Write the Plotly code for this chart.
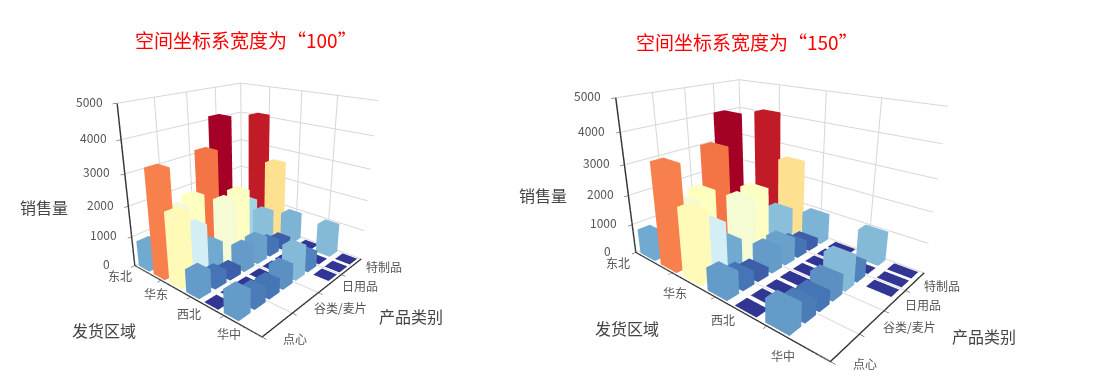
import plotly.graph_objects as go

region_ticks = ["东北", "华东", "西北", "华中"]
product_ticks = ["点心", "谷类/麦片", "日用品", "特制品"]
value_ticks = [0, 1000, 2000, 3000, 4000, 5000]
# sales[region row][product column]; None = no bar. 7 regions x 8 products, only every other tick is labelled
sales_r0 = [850, None, None, None, None, None, None, None]
sales_r1 = [3350, 2000, 2180, 3430, 4350, None, 1250, 4100]
sales_r2 = [2250, 1650, 850, 2040, 2150, None, 1050, 2600]
sales_r3 = [740, 450, 290, 740, 780, 450, 290, 950]
sales_r4 = [5, 5, 5, 5, 5, 5, 5, 5]
sales_r5 = [740, 500, 450, 650, 1000, 550, 5, 1000]
sales_r6 = [None, None, None, None, None, 5, 5, 5]
sales = [sales_r0, sales_r1, sales_r2, sales_r3, sales_r4, sales_r5, sales_r6]

scale = [[0.0, "#313695"], [0.1, "#4575b4"], [0.2, "#74add1"], [0.3, "#abd9e9"], [0.4, "#e0f3f8"],
         [0.5, "#ffffbf"], [0.6, "#fee090"], [0.7, "#fdae61"], [0.8, "#f46d43"], [0.9, "#d73027"], [1.0, "#a50026"]]
FW, FH = 1105, 377
XTICKS = [0, 1.75, 3.5, 5.25]
YTICKS = [0, 2, 4, 6]


def bars(wx, wy):
    X, Y, Z, I, J, K, C = [], [], [], [], [], [], []
    faces = [(0,1,2),(0,2,3),(4,5,6),(4,6,7),(0,1,5),(0,5,4),(1,2,6),(1,6,5),(2,3,7),(2,7,6),(3,0,4),(3,4,7)]
    for a, row in enumerate(sales):
        for b, v in enumerate(row):
            if v is None:
                continue
            n = len(X)
            for zz in (0, v):
                for dx, dy in ((-wx,-wy),(wx,-wy),(wx,wy),(-wx,wy)):
                    X.append(a + 0.5 + dx); Y.append(b + 0.5 + dy); Z.append(zz); C.append(v)
            for f in faces:
                I.append(n + f[0]); J.append(n + f[1]); K.append(n + f[2])
    return go.Mesh3d(x=X, y=Y, z=Z, i=I, j=J, k=K, intensity=C, colorscale=scale, cmin=0, cmax=4350,
                     showscale=False, flatshading=True, hoverinfo="skip",
                     lighting=dict(ambient=1, diffuse=0.04, specular=0, roughness=1, fresnel=0))


def note(text, x, y, z, dx, dy):
    return dict(text=text, x=x, y=y, z=z, showarrow=False, xshift=dx, yshift=dy, xanchor="center", yanchor="middle",
                font=dict(family="Noto Sans CJK SC", size=12, color="#555555"))


def scene(domain, ax, ay, az, eye, center, rshift, pshift, zshift):
    grid = "#d6d6d6"
    common = dict(gridcolor=grid, showline=True, linecolor="#333333", linewidth=3, ticks="outside",
                  tickcolor="#333333", ticklen=4, showbackground=False, zeroline=False, title_text="",
                  showticklabels=False, showspikes=False)
    anns = []
    for t, p, s in zip(region_ticks, XTICKS, rshift):
        anns.append(note(t, p, 0, 0, s[0], s[1]))
    for t, p, s in zip(product_ticks, YTICKS, pshift):
        anns.append(note(t, 7, p, 0, s[0], s[1]))
    for v in value_ticks:
        anns.append(note(str(v), 0, 0, v, zshift[0], zshift[1]))
    return dict(domain=dict(x=domain, y=[0, 1]),
                xaxis=dict(common, range=[0, 7], tickvals=XTICKS),
                yaxis=dict(common, range=[0, 8], tickvals=YTICKS),
                zaxis=dict(common, range=[0, 5000], tickvals=value_ticks),
                aspectmode="manual", aspectratio=dict(x=ax, y=ay, z=az), annotations=anns,
                camera=dict(eye=eye, center=center, up=dict(x=0, y=0, z=1)))


fig = go.Figure()
t1 = bars(0.36, 0.375); t1.scene = "scene"
t2 = bars(0.36, 0.375); t2.scene = "scene2"
fig.add_traces([t1, t2])
eye = dict(x=1.76, y=-2.03, z=1.03)
ctr = dict(x=0, y=0, z=-0.06)
fig.update_layout(
    width=FW, height=FH, margin=dict(l=0, r=0, t=0, b=0), paper_bgcolor="white", showlegend=False,
    scene=scene([0, 0.4372], 1.10, 1.07, 1.08, eye, ctr,
                [(-15, -10), (-5, -13), (-2, -17), (5, -18)], [(33, -1), (48, 6), (42, 7), (43, 8)], (-28, 2)),
    scene2=scene([0.473, 0.913], 1.65, 1.07, 1.08, eye, ctr,
                 [(-17, -10), (3, -20), (8, -23), (16, -30)], [(35, -2), (50, 8), (39, 6), (37, 5)], (-28, 2)),
)
labels = [("空间坐标系宽度为“100”", 246, 40, 19, "#ff0000"), ("空间坐标系宽度为“150”", 747, 42, 19, "#ff0000"),
          ("销售量", 44, 207, 16, "#444444"), ("发货区域", 104, 330, 16, "#444444"), ("产品类别", 411, 316, 16, "#444444"),
          ("销售量", 543, 195, 16, "#444444"), ("发货区域", 627, 328, 16, "#444444"), ("产品类别", 984, 336, 16, "#444444")]
for text, x, y, size, color in labels:
    fig.add_annotation(text=text, x=(x-8)/FW, y=1-(y-8)/FH, xref="paper", yref="paper", showarrow=False,
                       xanchor="center", yanchor="middle", font=dict(family="Noto Sans CJK SC", size=size, color=color))
fig.write_html("out.html")
